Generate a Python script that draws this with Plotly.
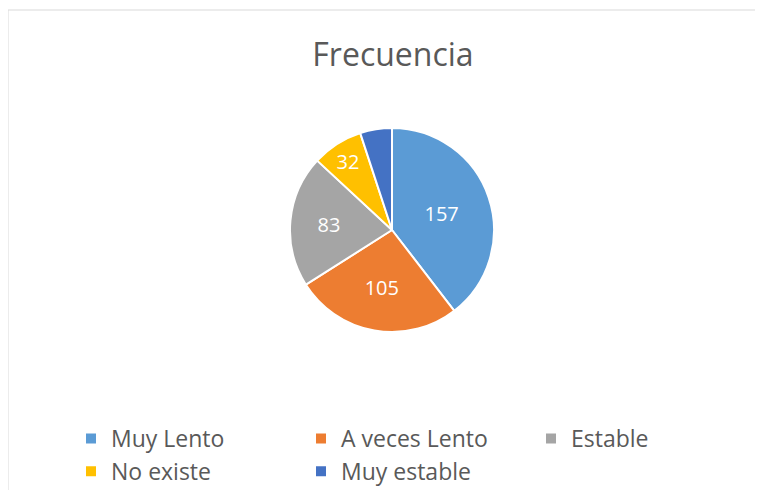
import plotly.graph_objects as go

categories = ["Muy Lento", "A veces Lento", "Estable", "No existe", "Muy estable"]
values = [157, 105, 83, 32, 20]
text_labels = ["157", "105", "83", "32", ""]
colors = ["#5B9BD5", "#ED7D31", "#A5A5A5", "#FFC000", "#4472C4"]

OFF = 8
W, H = 763 - OFF, 490 - OFF
FONT = "Open Sans"


def px(x):
    return (x - OFF) / W


def py(y):
    return 1 - (y - OFF) / H


fig = go.Figure(go.Pie(
    labels=categories,
    values=values,
    text=text_labels,
    textinfo="text",
    textposition="inside",
    insidetextorientation="horizontal",
    textfont=dict(color="white", size=20, family=FONT),
    marker=dict(colors=colors, line=dict(color="white", width=2)),
    sort=False,
    direction="clockwise",
    rotation=0,
    domain=dict(x=[px(290), px(494)], y=[py(332), py(128)]),
    hoverinfo="label+value",
))

fig.update_layout(
    width=W, height=H,
    margin=dict(l=0, r=0, t=0, b=0, autoexpand=False),
    paper_bgcolor="white",
    plot_bgcolor="white",
    title=dict(text="Frecuencia", x=px(393), xanchor="center", y=py(55), yanchor="middle",
               font=dict(size=32, color="#595959", family=FONT)),
    legend=dict(orientation="h", x=px(71), xanchor="left", y=py(417), yanchor="top",
                entrywidth=185, entrywidthmode="pixels", traceorder="normal",
                font=dict(size=23, color="#595959", family=FONT),
                itemclick=False, itemdoubleclick=False),
    shapes=[dict(type="rect", xref="paper", yref="paper",
                 x0=px(8), x1=1.2, y0=-0.2, y1=py(10),
                 line=dict(color="#D9D9D9", width=1), fillcolor="rgba(0,0,0,0)")],
)

fig.write_html("out.html")
